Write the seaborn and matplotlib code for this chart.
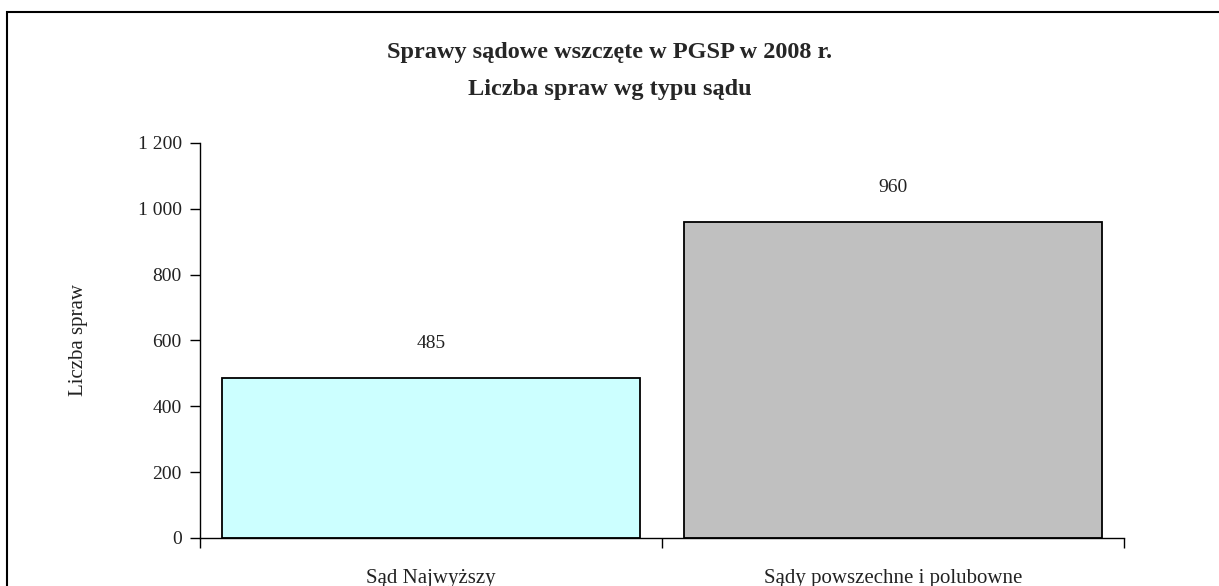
import matplotlib
matplotlib.use("Agg")
import matplotlib.pyplot as plt
import seaborn as sns
import pandas as pd
from matplotlib.patches import Rectangle
from matplotlib.ticker import FuncFormatter

# ---------------------------------------------------------------------------
# Data
# ---------------------------------------------------------------------------
categories = ["Sąd Najwyższy", "Sądy powszechne i polubowne"]
values = [485, 960]
bar_colors = ["#CCFFFF", "#C0C0C0"]
y_ticks = [0, 200, 400, 600, 800, 1000, 1200]
title = "Sprawy sądowe wszczęte w PGSP w 2008 r.\nLiczba spraw wg typu sądu"
ylabel = "Liczba spraw"

df = pd.DataFrame({"sad": categories, "liczba": values})

sns.set_theme(style="white")
plt.rcParams["font.family"] = ["Liberation Serif", "DejaVu Serif"]

fig = plt.figure(figsize=(12.19, 5.86), dpi=100)
ax = fig.add_axes([0.164, 0.082, 0.758, 0.674])

sns.barplot(data=df, x="sad", y="liczba", hue="sad", palette=bar_colors,
            saturation=1, width=0.905, edgecolor="black", linewidth=1.3,
            legend=False, ax=ax)

# value labels above bars
for i, v in enumerate(values):
    ax.annotate(f"{v}", (i, v), xytext=(0, 19), textcoords="offset points",
                ha="center", va="bottom", fontsize=14, color="#222222")

ax.set_xlim(-0.5, len(categories) - 0.5)
ax.set_ylim(0, 1200)
ax.set_yticks(y_ticks)
ax.yaxis.set_major_formatter(FuncFormatter(lambda v, p: f"{v:,.0f}".replace(",", " ")))

# x ticks on category boundaries, labels at centres
ax.set_xticks([i - 0.5 for i in range(len(categories) + 1)])
ax.set_xticklabels([""] * (len(categories) + 1))
ax.set_xticks(range(len(categories)), minor=True)
ax.set_xticklabels(categories, minor=True, fontsize=15, color="#222222")
ax.tick_params(axis="x", which="major", direction="out", length=7, width=1, color="black", bottom=True)
ax.tick_params(axis="x", which="minor", length=0, pad=22)
ax.tick_params(axis="y", direction="out", length=7, width=1, color="black", left=True,
               labelsize=14, labelcolor="#222222", pad=6)

ax.set_xlabel("")
ax.set_ylabel(ylabel, fontsize=15, color="#222222", labelpad=36)

for s in ["top", "right"]:
    ax.spines[s].set_visible(False)
for s in ["left", "bottom"]:
    ax.spines[s].set_color("black")
    ax.spines[s].set_linewidth(1)

fig.text(0.5, 1 - 71 / 586, title, ha="center", va="center", fontsize=17.5,
         fontweight="bold", linespacing=1.95)

# chart frame (cut at right and bottom edge)
fig.add_artist(Rectangle((7 / 1219, -0.1), 2, 1 - 12 / 586 + 0.1, fill=False,
                         transform=fig.transFigure, edgecolor="black", linewidth=1.5))

fig.savefig("out.png", dpi=100, facecolor="white")
